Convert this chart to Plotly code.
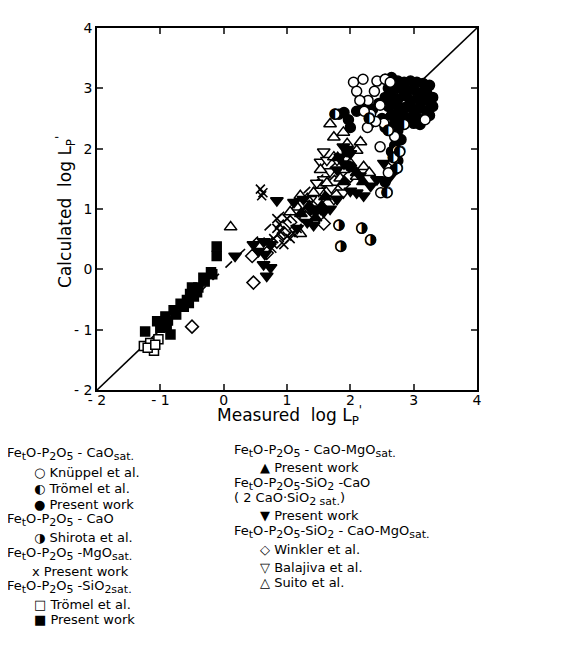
import plotly.graph_objects as go

# ---- data (log L'p measured, calculated) ----
knuppel_x = [2.05, 2.20, 2.10, 2.28, 2.38, 2.42, 2.32, 2.27, 2.53, 2.62, 2.47, 2.68, 2.74, 2.55, 2.22, 2.47, 2.63, 2.48, 2.60, 2.70, 2.40, 2.15, 3.18]
knuppel_y = [3.10, 3.15, 2.95, 2.80, 2.95, 3.12, 2.57, 2.35, 2.42, 2.30, 2.03, 1.80, 1.97, 3.15, 2.62, 2.72, 3.10, 1.27, 1.60, 2.20, 2.45, 2.80, 2.48]

tromel_cao_x = [1.76, 2.58, 2.68, 2.78, 2.74, 2.60, 2.30, 2.85]
tromel_cao_y = [2.57, 1.27, 1.85, 1.95, 1.68, 2.30, 2.50, 2.40]

present_cao_x = [2.55, 2.65, 2.75, 2.85, 2.95, 3.05, 3.15, 3.25,
                 2.60, 2.70, 2.80, 2.90, 3.00, 3.10, 3.20,
                 2.55, 2.65, 2.75, 2.85, 2.95, 3.05, 3.15, 3.25, 3.30,
                 2.60, 2.70, 2.80, 2.90, 3.00, 3.10, 3.20, 3.30,
                 2.65, 2.75, 2.85, 2.95, 3.05, 3.15, 3.25,
                 2.70, 2.80, 3.00, 3.10,
                 2.75, 2.80, 2.70, 2.65, 2.75, 2.70,
                 1.82, 1.90, 1.97, 2.10, 2.20, 2.35, 2.45, 2.00,
                 2.50, 2.55, 1.95, 2.00, 2.55]
present_cao_y = [3.15, 3.18, 3.12, 3.10, 3.12, 3.10, 3.08, 3.05,
                 3.00, 2.98, 3.00, 2.95, 2.98, 2.92, 2.95,
                 2.85, 2.85, 2.82, 2.88, 2.80, 2.82, 2.80, 2.78, 2.85,
                 2.70, 2.72, 2.68, 2.70, 2.65, 2.68, 2.62, 2.70,
                 2.55, 2.58, 2.55, 2.50, 2.52, 2.48, 2.55,
                 2.42, 2.45, 2.42, 2.40,
                 2.30, 2.15, 2.05, 1.95, 1.80, 1.65,
                 2.57, 2.60, 2.48, 2.62, 2.70, 2.65, 2.75, 2.35,
                 2.50, 2.35, 1.95, 1.70, 1.45]

shirota_x = [1.82, 1.85, 2.18, 2.32]
shirota_y = [0.73, 0.38, 0.68, 0.49]

mgo_x = [0.58, 0.62, 0.60, 0.84, 0.79, 0.90, 0.95, 1.00, 0.76, 1.05, 0.84, 1.16, 0.88, 1.10, 0.70, 1.00]
mgo_y = [1.33, 1.27, 1.22, 0.68, 0.51, 0.62, 0.41, 0.84, 0.35, 0.51, 0.84, 0.68, 0.75, 0.60, 0.45, 0.55]

tromel_sio2_x = [-1.26, -1.16, -1.10, -1.03, -1.20, -1.08]
tromel_sio2_y = [-1.27, -1.22, -1.35, -1.16, -1.30, -1.25]

present_sio2_x = [-1.24, -1.05, -0.98, -0.92, -0.84, -0.79, -0.68, -0.58, -0.53, -0.42, -0.55, -0.32, -0.18, -0.11, -0.11,
                  -0.90, -1.00, -0.75, -0.63, -0.47, -0.30, -0.20, -0.88, -0.50, -0.40]
present_sio2_y = [-1.03, -0.86, -0.90, -0.78, -1.08, -0.68, -0.57, -0.51, -0.41, -0.38, -0.56, -0.14, -0.08, 0.38, 0.22,
                  -0.95, -0.97, -0.75, -0.62, -0.45, -0.20, -0.05, -0.85, -0.30, -0.30]

cao_mgo_x = [1.22, 1.35, 1.45, 1.60, 1.90, 2.10, 2.20, 1.80, 1.55]
cao_mgo_y = [0.92, 1.05, 0.85, 1.20, 1.45, 1.60, 1.45, 1.85, 1.05]

c2s_x = [0.84, 1.11, 0.18, 0.47, 0.63, 0.74, 0.63, 0.68, 0.74, 1.26, 1.37, 1.53, 1.58, 1.32, 1.16, 1.42, 1.84, 1.95,
         1.79, 2.10, 2.21, 2.32, 2.42, 2.63, 2.00, 1.68, 1.79, 1.89, 2.53, 0.65, 0.55, 1.45, 2.00, 1.90, 2.15]
c2s_y = [1.14, 1.11, 0.22, 0.41, 0.46, 0.41, 0.08, -0.11, 0.03, 1.16, 1.00, 1.00, 0.95, 0.78, 0.68, 0.73, 1.86, 1.97,
         1.65, 1.27, 1.22, 1.38, 1.49, 1.54, 1.92, 1.00, 1.16, 2.03, 1.76, 0.25, 0.30, 0.95, 1.30, 1.75, 1.55]

winkler_x = [-0.50, 0.47, 0.45, 0.68, 1.05, 1.58, 1.24, 0.84, 0.95, 1.58, 1.68, 1.89, 1.37, 1.30, 1.50, 1.75, 2.00]
winkler_y = [-0.95, -0.22, 0.22, 0.27, 0.78, 0.76, 0.89, 0.46, 0.60, 1.27, 1.32, 1.41, 1.00, 0.85, 1.15, 1.45, 1.55]

balajiva_x = [1.58, 1.53, 1.63, 1.68, 1.79, 1.58, 1.47, 1.74, 1.37, 1.89, 1.70, 1.50]
balajiva_y = [1.95, 1.78, 1.81, 1.62, 1.81, 1.49, 1.43, 1.16, 1.16, 1.27, 1.35, 1.30]

suito_x = [0.11, 1.21, 1.21, 1.32, 1.16, 1.68, 1.74, 1.89, 1.95, 2.16, 2.10, 2.00, 1.89, 1.84, 1.63, 1.53, 2.21, 2.10, 1.74, 1.42, 1.05, 2.30]
suito_y = [0.70, 0.59, 1.22, 1.17, 1.03, 2.41, 2.19, 2.27, 2.08, 2.11, 1.97, 1.76, 1.65, 1.51, 1.43, 1.65, 1.70, 1.54, 1.86, 1.27, 0.95, 1.60]

axis_ticks = [-2, -1, 0, 1, 2, 3, 4]
tick_text = ["- 2", "- 1", "0", "1", "2", "3", "4"]

fig = go.Figure()

# reference line y = x
fig.add_trace(go.Scatter(x=[-2, -1], y=[-2, -1], mode="lines", line=dict(color="black", width=1.6), hoverinfo="skip"))
fig.add_trace(go.Scatter(x=[-1, 3], y=[-1, 3], mode="lines", line=dict(color="black", width=1.6, dash="dash"), hoverinfo="skip"))
fig.add_trace(go.Scatter(x=[3, 4], y=[3, 4], mode="lines", line=dict(color="black", width=1.6), hoverinfo="skip"))

def mk(x, y, symbol, filled, size=10):
    fig.add_trace(go.Scatter(
        x=x, y=y, mode="markers",
        marker=dict(symbol=symbol, size=size,
                    color="black" if filled else "white",
                    line=dict(color="black", width=1.5))))

def half(x, y, glyph):
    fig.add_trace(go.Scatter(x=x, y=y, mode="markers",
                             marker=dict(symbol="circle", size=10, color="white", line=dict(color="black", width=1.5))))
    fig.add_trace(go.Scatter(x=x, y=y, mode="text", text=[glyph] * len(x),
                             textposition="middle center",
                             textfont=dict(size=15, color="black", family="DejaVu Sans")))

mk(present_sio2_x, present_sio2_y, "square", True, 9)
mk(tromel_sio2_x, tromel_sio2_y, "square", False, 9)
mk(winkler_x, winkler_y, "diamond", False, 10)
mk(balajiva_x, balajiva_y, "triangle-down", False, 11)
mk(suito_x, suito_y, "triangle-up", False, 11)
mk(c2s_x, c2s_y, "triangle-down", True, 11)
mk(cao_mgo_x, cao_mgo_y, "triangle-up", True, 11)
fig.add_trace(go.Scatter(x=mgo_x, y=mgo_y, mode="markers",
                         marker=dict(symbol="x-thin-open", size=9, color="black", line=dict(color="black", width=1.6))))
mk(present_cao_x, present_cao_y, "circle", True, 10)
mk(knuppel_x, knuppel_y, "circle", False, 10)
half(tromel_cao_x, tromel_cao_y, "◐")
half(shirota_x, shirota_y, "◑")

FONT = "DejaVu Sans"
axis_common = dict(range=[-2, 4], tickvals=axis_ticks, ticktext=tick_text,
                   ticks="inside", ticklen=6, tickwidth=1.5, mirror="ticks", showline=True,
                   linecolor="black", linewidth=1.6, showgrid=False, zeroline=False,
                   tickfont=dict(size=14, color="black", family=FONT))
fig.update_xaxes(**axis_common, ticklabelstandoff=-4)
fig.update_yaxes(**axis_common)

OFF = 8  # page body margin
L, T = 97 - OFF, 20 - OFF
W, H = 561 - OFF, 671 - OFF
pw, ph = 380, 370
R, B = W - L - pw, H - T - ph

def px2paper(px, py):
    return (px - OFF - L) / pw, (T + ph - (py - OFF)) / ph

# axis titles
ax, ay = px2paper(289, 416)
fig.add_annotation(x=ax, y=ay, xref="paper", yref="paper", xanchor="center", yanchor="middle",
                   text="Measured  log L<sub>P</sub><sup>'</sup>", showarrow=False,
                   font=dict(size=17, color="black", family=FONT))
ax, ay = px2paper(66, 208)
fig.add_annotation(x=ax, y=ay, xref="paper", yref="paper", xanchor="center", yanchor="middle",
                   text="Calculated  log L<sub>P</sub><sup>'</sup>", showarrow=False, textangle=-90,
                   font=dict(size=17, color="black", family=FONT))

def s(t):
    return "<sub><span style='font-size:11px'>" + t + "</span></sub>"

FE = "Fe" + s("t") + "O-P" + s("2") + "O" + s("5")

# ---- legend text (two columns below the plot) ----
left_items = [
    (5, 455, FE + " - CaO" + s("sat.")),
    (32, 474, "○ Knüppel et al."),
    (32, 491, "◐ Trömel et al."),
    (32, 507, "● Present work"),
    (5, 523, FE + " - CaO"),
    (32, 541, "◑ Shirota et al."),
    (5, 558, FE + " -MgO" + s("sat.")),
    (30, 575, "x Present work"),
    (5, 591, FE + " -SiO" + s("2sat.")),
    (32, 609, "□ Trömel et al."),
    (32, 625, "■ Present work"),
]
right_items = [
    (232, 452, FE + " - CaO-MgO" + s("sat.")),
    (258, 469, "▲ Present work"),
    (232, 486, FE + "-SiO" + s("2") + " -CaO"),
    (232, 501, "( 2 CaO·SiO" + s("2 sat.") + ")"),
    (258, 518, "▼ Present work"),
    (232, 535, FE + "-SiO" + s("2") + " - CaO-MgO" + s("sat.")),
    (258, 553, "◇ Winkler et al."),
    (258, 571, "▽ Balajiva et al."),
    (258, 587, "△ Suito et al."),
]
for px, py, txt in left_items + right_items:
    ax, ay = px2paper(px, py)
    fig.add_annotation(x=ax, y=ay, xref="paper", yref="paper",
                       xanchor="left", yanchor="middle", text=txt, showarrow=False,
                       font=dict(size=13, color="black", family=FONT))

fig.update_layout(width=W, height=H, margin=dict(l=L, r=R, t=T, b=B),
                  paper_bgcolor="white", plot_bgcolor="white", showlegend=False)

fig.write_html("out.html")
